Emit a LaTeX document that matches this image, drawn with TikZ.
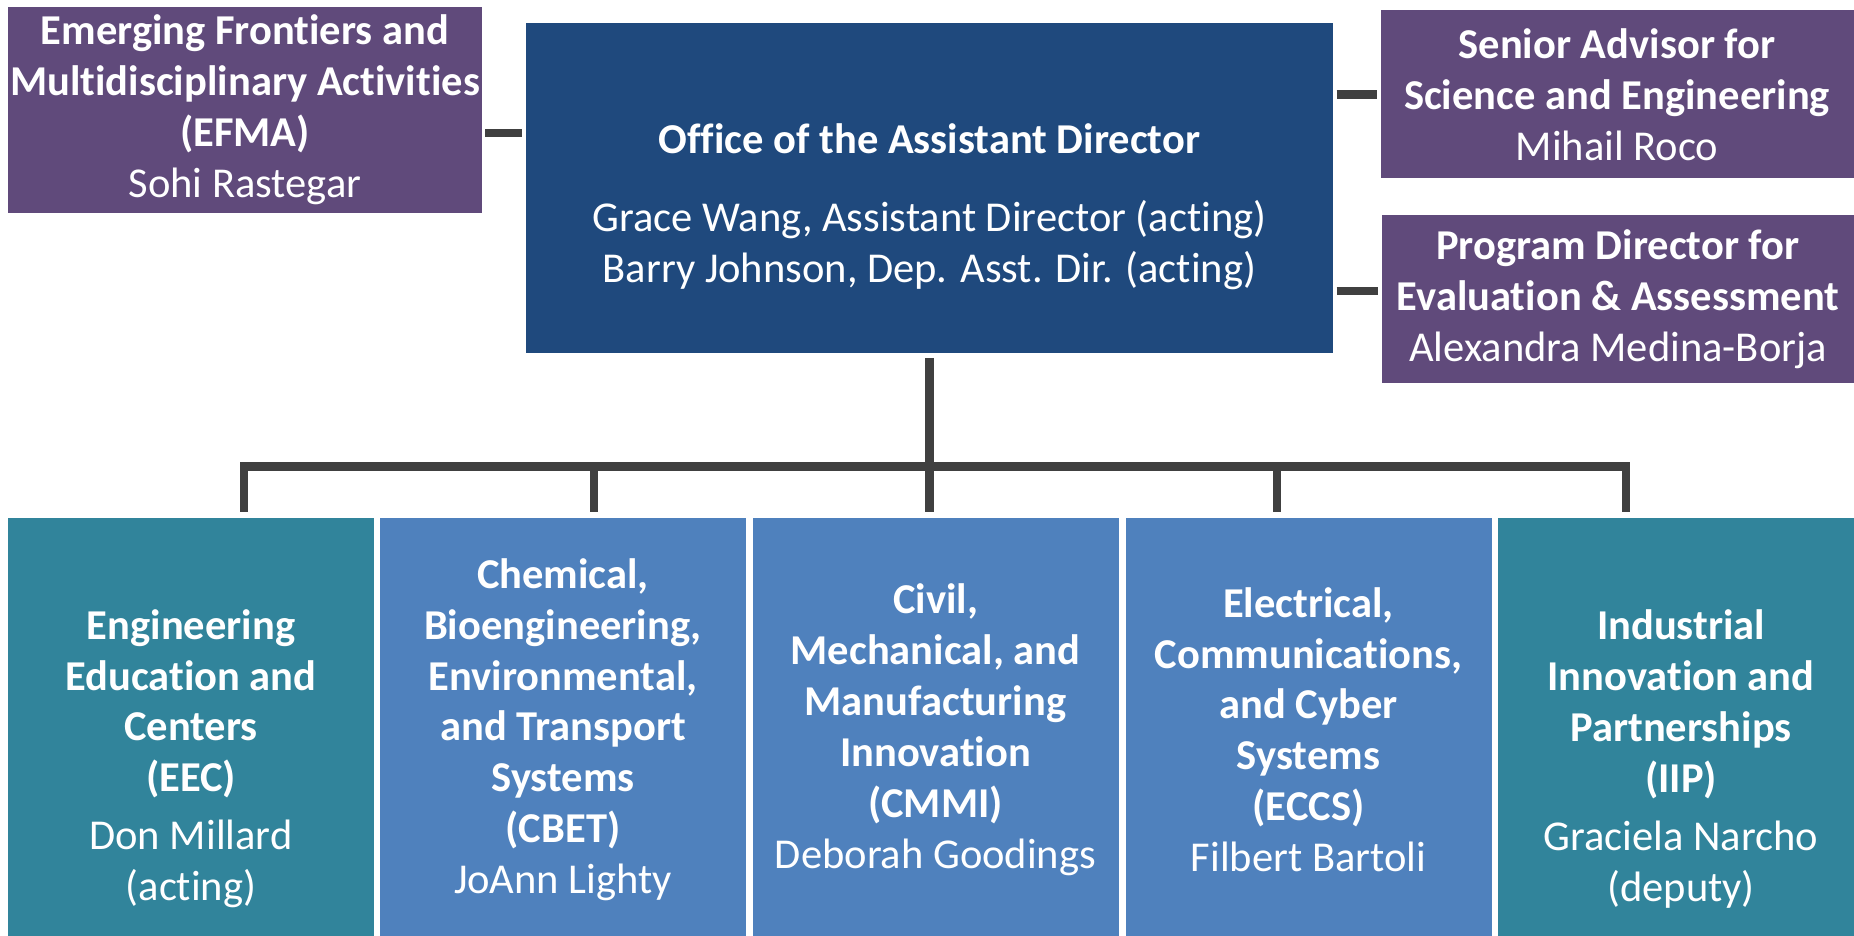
\documentclass[tikz,border=0pt]{standalone}
\usepackage{fontspec}
\setmainfont{Carlito}[Ligatures=NoCommon]
\usetikzlibrary{positioning}
\definecolor{adblue}{HTML}{1F497D}
\definecolor{staffpurple}{HTML}{604A7B}
\definecolor{divblue}{HTML}{4F81BD}
\definecolor{divteal}{HTML}{31849B}
\definecolor{linkgray}{HTML}{404040}
\tikzset{orgbox/.style = {rectangle, inner sep=0pt, text=white, align=center,
                          font=\fontsize{12.1}{14.5}\selectfont},
         staff/.style = {orgbox, fill=staffpurple, minimum width=4.73cm},
         division/.style = {orgbox, anchor=north, minimum width=3.66cm},
         link/.style = {draw=linkgray, line width=2.3pt}}

\begin{document}
\begin{tikzpicture}
    \useasboundingbox (0, 0) rectangle (18.54, -9.36);
    \clip (0, 0) rectangle (18.54, -9.36);
    \node [staff, minimum height=2.06cm] (efma) at (2.45, -1.10)
      {\textbf{Emerging Frontiers and}\\ \textbf{Multidisciplinary Activities}\\
       \textbf{(EFMA)}\\ Sohi Rastegar};
    \node [orgbox, fill=adblue, minimum width=8.07cm, minimum height=3.30cm] (office) at (9.295, -1.883)
      {\rule{0pt}{0.66cm}\textbf{Office of the Assistant Director}\\[0.27cm]
       Grace Wang, Assistant Director (acting)\\ Barry Johnson, Dep. Asst. Dir. (acting)};
    \node [staff, minimum height=1.68cm] (senior) at (16.17, -0.945)
      {\textbf{Senior Advisor for}\\ \textbf{Science and Engineering}\\ Mihail Roco};
    \node [staff, minimum height=1.68cm] (evaluation) at (16.18, -2.99)
      {\textbf{Program Director for}\\ \textbf{Evaluation \& Assessment}\\ Alexandra Medina-Borja};
    \node [division, fill=divteal, minimum height=4.82cm] (eec) at (1.91, -5.17)
      {\textbf{Engineering}\\ \textbf{Education and}\\ \textbf{Centers}\\ \textbf{(EEC)}\\[0.07cm]
       Don Millard\\ (acting)};
    \node [division, fill=divblue, minimum height=4.24cm] (cbet) at (5.63, -5.17)
      {\textbf{Chemical,}\\ \textbf{Bioengineering,}\\ \textbf{Environmental,}\\ \textbf{and Transport}\\
       \textbf{Systems}\\ \textbf{(CBET)}\\ JoAnn Lighty};
    \node [division, fill=divblue, minimum height=4.24cm] (cmmi) at (9.355, -5.17)
      {\textbf{Civil,}\\ \textbf{Mechanical, and}\\ \textbf{Manufacturing}\\ \textbf{Innovation}\\
       \textbf{(CMMI)}\\ Deborah Goodings};
    \node [division, fill=divblue, minimum height=4.24cm] (eccs) at (13.085, -5.17)
      {\textbf{Electrical,}\\ \textbf{Communications,}\\ \textbf{and Cyber}\\ \textbf{Systems}\\
       \textbf{(ECCS)}\\ Filbert Bartoli};
    \node [division, fill=divteal, minimum height=4.82cm] (iip) at (16.81, -5.17)
      {\textbf{Industrial}\\ \textbf{Innovation and}\\ \textbf{Partnerships}\\ \textbf{(IIP)}\\[0.07cm]
       Graciela Narcho\\ (deputy)};
    \coordinate (d1) at (2.44, -4.665);
    \coordinate (d2) at (5.94, -4.665);
    \coordinate (d3) at (9.295, -4.665);
    \coordinate (d4) at (12.77, -4.665);
    \coordinate (d5) at (16.26, -4.665);
    \draw [link, shorten <=0.03cm, shorten >=0.03cm] (efma.east |- 0, -1.33) -- (office.west |- 0, -1.33);
    \draw [link, shorten <=0.03cm, shorten >=0.03cm] (office.east |- senior) -- (senior.west);
    \draw [link, shorten <=0.03cm, shorten >=0.03cm] (office.east |- 0, -2.908) -- (evaluation.west |- 0, -2.908);
    \draw [link, shorten <=0.04cm] (office.south) -- (d3);
    \draw [link, line cap=rect] (d1) -- (d5);
    \draw [link, shorten >=0.05cm] (d1) -- (d1 |- eec.north);
    \draw [link, shorten >=0.05cm] (d2) -- (d2 |- cbet.north);
    \draw [link, shorten >=0.05cm] (d3) -- (d3 |- cmmi.north);
    \draw [link, shorten >=0.05cm] (d4) -- (d4 |- eccs.north);
    \draw [link, shorten >=0.05cm] (d5) -- (d5 |- iip.north);
\end{tikzpicture}
\end{document}
